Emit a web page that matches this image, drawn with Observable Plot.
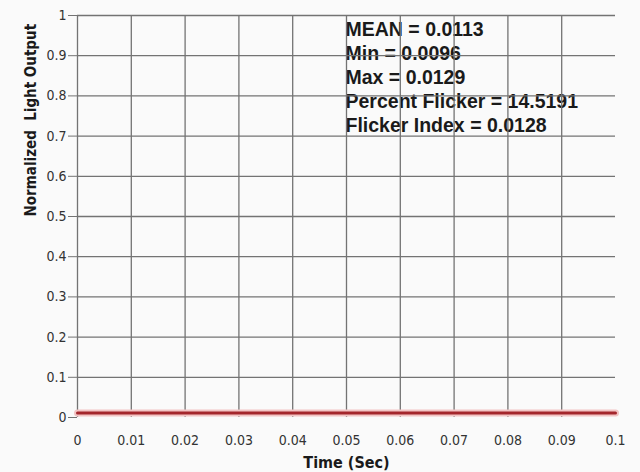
<!DOCTYPE html>
<html>
<head>
<meta charset="utf-8">
<script src="https://cdn.jsdelivr.net/npm/d3@7"></script>
<script src="https://cdn.jsdelivr.net/npm/@observablehq/plot@0.6"></script>
<style>
  html, body { margin: 0; padding: 0; background: #fafafa; }
</style>
</head>
<body>
<div id="chart"></div>
<script>
// Data
const time = [0, 0.02, 0.04, 0.06, 0.08, 0.1];
const lightOutput = [0.0113, 0.0113, 0.0113, 0.0113, 0.0113, 0.0113];

const xTicks = [0, 0.01, 0.02, 0.03, 0.04, 0.05, 0.06, 0.07, 0.08, 0.09, 0.1];
const xTickLabels = ["0", "0.01", "0.02", "0.03", "0.04", "0.05", "0.06", "0.07", "0.08", "0.09", "0.1"];
const yTicks = [0, 0.1, 0.2, 0.3, 0.4, 0.5, 0.6, 0.7, 0.8, 0.9, 1];
const yTickLabels = ["0", "0.1", "0.2", "0.3", "0.4", "0.5", "0.6", "0.7", "0.8", "0.9", "1"];

const statLabels = ["MEAN", "Min", "Max", "Percent Flicker", "Flicker Index"];
const statValues = ["0.0113", "0.0096", "0.0129", "14.5191", "0.0128"];

const xTitle = "Time (Sec)";
const yTitle = "Normalized  Light Output";

const series = time.map((t, i) => ({t, v: lightOutput[i]}));
const statText = statLabels.map((l, i) => `${l} = ${statValues[i]}`).join("\n");

const tickFont = "'DejaVu Sans Condensed', 'DejaVu Sans', sans-serif";
const gridColor = "#737373";

const chart = Plot.plot({
  width: 640,
  height: 472,
  marginLeft: 77,
  marginRight: 25,
  marginTop: 15,
  marginBottom: 55,
  style: {background: "#fafafa", fontFamily: tickFont, fontSize: "14px", color: "#333"},
  x: {domain: [0, 0.1]},
  y: {domain: [0, 1]},
  marks: [
    Plot.text([statText], {
      frameAnchor: "top-left", dx: 268, dy: 3,
      textAnchor: "start", lineAnchor: "top", lineHeight: 1.235,
      fontSize: 19.5, fontWeight: "bold", fontFamily: "'Liberation Sans', Arial, sans-serif",
      fill: "#1a1a1a"
    }),
    Plot.gridX(xTicks.slice(1, -1), {stroke: gridColor, strokeOpacity: 1, strokeWidth: 1.3}),
    Plot.gridY(yTicks.slice(1), {stroke: gridColor, strokeOpacity: 1, strokeWidth: 1.3}),
    Plot.ruleX([0], {stroke: gridColor, strokeWidth: 1.3}),
    Plot.axisX({
      ticks: xTicks, tickFormat: (d, i) => xTickLabels[i],
      tickSize: 0, tickPadding: 18, label: null, fill: "#333", fontSize: 14
    }),
    Plot.axisY({
      ticks: yTicks, tickFormat: (d, i) => yTickLabels[i],
      tickSize: 9, tickPadding: 2, label: null, stroke: gridColor, fill: "#333", fontSize: 14
    }),
    Plot.text([xTitle], {
      frameAnchor: "bottom", dy: 45, lineAnchor: "middle",
      fontWeight: "bold", fontSize: 16, fill: "#1a1a1a"
    }),
    Plot.text([yTitle], {
      frameAnchor: "left", dx: -46, rotate: -90, lineAnchor: "middle",
      fontWeight: "bold", fontSize: 15, fill: "#1a1a1a"
    }),
    Plot.line(series, {x: "t", y: "v", stroke: "#f2c4c4", strokeWidth: 7}),
    Plot.line(series, {x: "t", y: "v", stroke: "#a4262c", strokeWidth: 3})
  ]
});

document.getElementById("chart").append(chart);
</script>
</body>
</html>
